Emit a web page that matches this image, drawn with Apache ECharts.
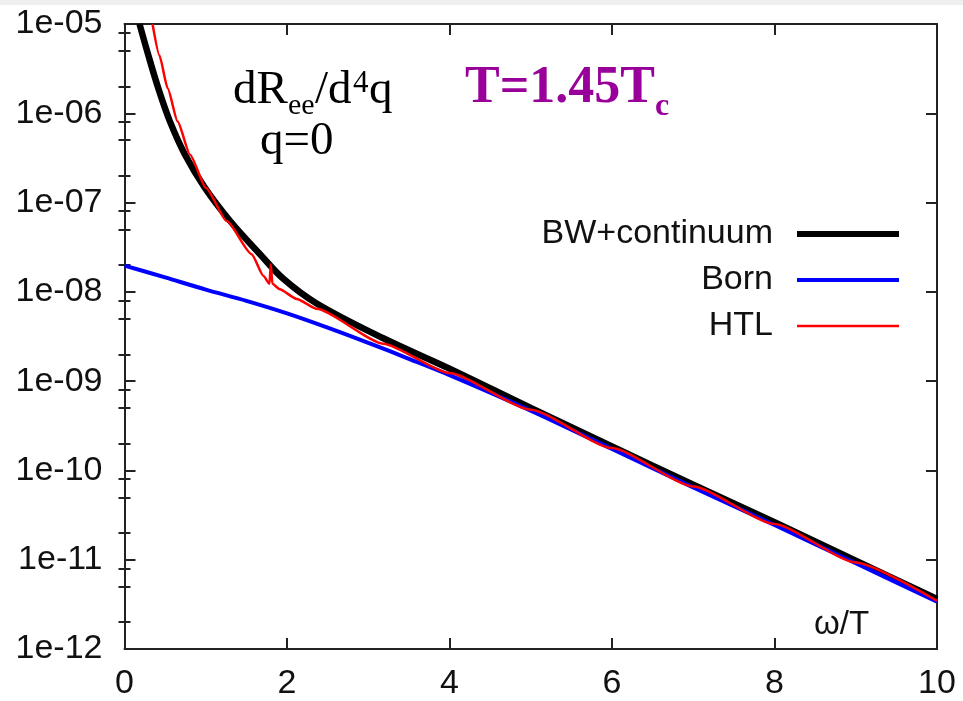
<!DOCTYPE html>
<html>
<head>
<meta charset="utf-8">
<script src="https://cdn.jsdelivr.net/npm/echarts@6/dist/echarts.min.js"></script>
<style>
html,body{margin:0;padding:0;background:#fff;}
#chart{width:963px;height:701px;}
</style>
</head>
<body>
<div id="chart"></div>
<script>
// ---- data (x = omega/T) ----
var bwX   = [0.185, 0.293, 0.416, 0.56, 0.745, 0.99, 1.30, 1.668, 1.955, 2.365, 3.185, 4.0, 5.0, 6.0, 7.0, 8.0, 9.0, 10.0];
var bwY   = [1.0e-5, 4.48e-6, 1.905e-6, 8.07e-7, 3.44e-7, 1.46e-7, 6.21e-8, 2.64e-8, 1.40e-8, 7.41e-9, 3.02e-9, 1.38e-9, 5.01e-10, 1.86e-10, 6.92e-11, 2.63e-11, 9.77e-12, 3.63e-12];

var bornX = [0, 0.5, 1.0, 1.5, 2.0, 2.5, 3.0, 3.5, 4.0, 5.0, 6.0, 7.0, 8.0, 9.0, 10.0];
var bornY = [1.97e-8, 1.45e-8, 1.06e-8, 7.94e-9, 5.75e-9, 3.98e-9, 2.69e-9, 1.78e-9, 1.17e-9, 4.68e-10, 1.74e-10, 6.46e-11, 2.45e-11, 9.12e-12, 3.39e-12];

var htlX  = [0.345, 0.429, 0.531, 0.654, 0.806, 1.003, 1.258, 1.565, 1.71, 1.785, 1.80, 1.82, 1.91, 2.12, 2.365, 3.185, 4.0, 5.0, 6.0, 7.0, 8.0, 9.0, 10.0];
var htlY  = [1.0e-5, 4.48e-6, 1.905e-6, 8.07e-7, 3.44e-7, 1.46e-7, 6.21e-8, 2.64e-8, 1.51e-8, 1.23e-8, 2.04e-8, 1.23e-8, 1.07e-8, 8.32e-9, 6.46e-9, 2.63e-9, 1.23e-9, 4.79e-10, 1.78e-10, 6.61e-11, 2.51e-11, 9.33e-12, 3.47e-12];

var seriesNames = ['BW+continuum', 'Born', 'HTL'];
var xTickLabels = ['0', '2', '4', '6', '8', '10'];
var yTickLabels = ['1e-12', '1e-11', '1e-10', '1e-09', '1e-08', '1e-07', '1e-06', '1e-05'];
var minorMantissas = [2, 5, 8];

function pairs(xs, ys) { return xs.map(function (x, i) { return [x, ys[i]]; }); }

var yMinExp = -12, yMaxExp = -5;
var minorLog = [];
for (var e = yMinExp; e < yMaxExp; e++) {
  minorMantissas.forEach(function (m) { minorLog.push(e + Math.log10(m)); });
}
var majorLog = [];
for (var e2 = yMinExp; e2 <= yMaxExp; e2++) majorLog.push(e2);

var frameColor = '#222';
var tickFont = 'Liberation Sans';

function decoY(pos, values, len) {
  return {
    type: 'value', min: yMinExp, max: yMaxExp, position: pos, offset: 0,
    axisLine: { show: false },
    axisTick: { show: true, inside: true, length: len, customValues: values, lineStyle: { color: frameColor, width: 2 } },
    axisLabel: { show: false },
    splitLine: { show: false }
  };
}

var chart = echarts.init(document.getElementById('chart'), null, { renderer: 'canvas' });
chart.setOption({
  backgroundColor: '#fff',
  animation: false,
  grid: { left: 124.5, right: 26, top: 24, bottom: 49 },
  legend: {
    data: [
      { name: seriesNames[0], icon: 'path://M0,0H102V6H0Z' },
      { name: seriesNames[1], icon: 'path://M0,0H102V4H0Z' },
      { name: seriesNames[2], icon: 'path://M0,0H102V2.5H0Z' }
    ],
    orient: 'vertical',
    right: 64, top: 217,
    align: 'right',
    padding: 0,
    itemWidth: 102, itemHeight: 14, itemGap: 12,
    textStyle: { fontFamily: tickFont, fontSize: 34, color: '#111', lineHeight: 34, padding: [0, 19, 0, 0] }
  },
  xAxis: [
    {
      type: 'value', min: 0, max: 10, interval: 2, position: 'bottom',
      axisLine: { show: true, onZero: false, lineStyle: { color: frameColor, width: 2 } },
      axisTick: { show: true, inside: true, length: 11, lineStyle: { color: frameColor, width: 2 } },
      axisLabel: { fontFamily: tickFont, fontSize: 34, color: '#111', margin: 18,
        formatter: function (v) { return xTickLabels[Math.round(v / 2)]; } },
      splitLine: { show: false }
    },
    {
      type: 'value', min: 0, max: 10, interval: 2, position: 'top',
      axisLine: { show: true, onZero: false, lineStyle: { color: frameColor, width: 2 } },
      axisTick: { show: true, inside: true, length: 11, lineStyle: { color: frameColor, width: 2 } },
      axisLabel: { show: false },
      splitLine: { show: false }
    }
  ],
  yAxis: [
    {
      type: 'log', logBase: 10, min: 1e-12, max: 1e-5, interval: 1, position: 'left',
      axisLine: { show: true, onZero: false, lineStyle: { color: frameColor, width: 2 } },
      axisTick: { show: true, inside: true, length: 11, lineStyle: { color: frameColor, width: 2 } },
      axisLabel: { fontFamily: tickFont, fontSize: 34, color: '#111', margin: 22,
        formatter: function (v) { return yTickLabels[Math.round(Math.log10(v)) - yMinExp]; } },
      splitLine: { show: false }
    },
    decoY('left', minorLog, 6),
    {
      type: 'value', min: yMinExp, max: yMaxExp, position: 'right', offset: 0,
      axisLine: { show: true, onZero: false, lineStyle: { color: frameColor, width: 2 } },
      axisTick: { show: true, inside: true, length: 11, customValues: majorLog, lineStyle: { color: frameColor, width: 2 } },
      axisLabel: { show: false },
      splitLine: { show: false }
    },
    decoY('right', minorLog, 6)
  ],
  series: [
    {
      name: seriesNames[0], type: 'line', data: pairs(bwX, bwY), xAxisIndex: 0, yAxisIndex: 0,
      symbol: 'none', smooth: 0.35, clip: true,
      lineStyle: { color: '#000', width: 6.5 }, itemStyle: { color: '#000' }, z: 2
    },
    {
      name: seriesNames[1], type: 'line', data: pairs(bornX, bornY), xAxisIndex: 0, yAxisIndex: 0,
      symbol: 'none', smooth: 0.3, clip: true,
      lineStyle: { color: '#0000ff', width: 4 }, itemStyle: { color: '#0000ff' }, z: 3
    },
    {
      name: seriesNames[2], type: 'line', data: pairs(htlX, htlY), xAxisIndex: 0, yAxisIndex: 0,
      symbol: 'none', smooth: 0.2, smoothMonotone: 'x', clip: true,
      lineStyle: { color: '#ff0000', width: 2.5 }, itemStyle: { color: '#ff0000' }, z: 4
    }
  ],
  graphic: [
    { type: 'rect', left: 0, top: 0, shape: { width: 963, height: 5 }, style: { fill: '#efefef' }, silent: true },
    { type: 'text', x: 233, y: 90.8, style: { text: 'dR', font: '47px "Liberation Serif"', fill: '#000', align: 'left', verticalAlign: 'middle' } },
    { type: 'text', x: 288, y: 106.5, style: { text: 'ee', font: '30px "Liberation Serif"', fill: '#000', align: 'left', verticalAlign: 'middle' } },
    { type: 'text', x: 315, y: 90.8, style: { text: '/d', font: '47px "Liberation Serif"', fill: '#000', align: 'left', verticalAlign: 'middle' } },
    { type: 'text', x: 353, y: 84, style: { text: '4', font: '31px "Liberation Serif"', fill: '#000', align: 'left', verticalAlign: 'middle' } },
    { type: 'text', x: 369, y: 90.8, style: { text: 'q', font: '47px "Liberation Serif"', fill: '#000', align: 'left', verticalAlign: 'middle' } },
    { type: 'text', x: 260, y: 142, style: { text: 'q=0', font: '47px "Liberation Serif"', fill: '#000', align: 'left', verticalAlign: 'middle' } },
    { type: 'text', x: 465, y: 89, style: { text: 'T=1.45T', font: 'bold 52px "Liberation Serif"', fill: '#990099', align: 'left', verticalAlign: 'middle' } },
    { type: 'text', x: 655, y: 107, style: { text: 'c', font: 'bold 32px "Liberation Serif"', fill: '#990099', align: 'left', verticalAlign: 'middle' } },
    { type: 'text', x: 814, y: 625, style: { text: 'ω/T', font: '33px "Liberation Sans"', fill: '#111', align: 'left', verticalAlign: 'middle' } }
  ]
});
</script>
</body>
</html>
